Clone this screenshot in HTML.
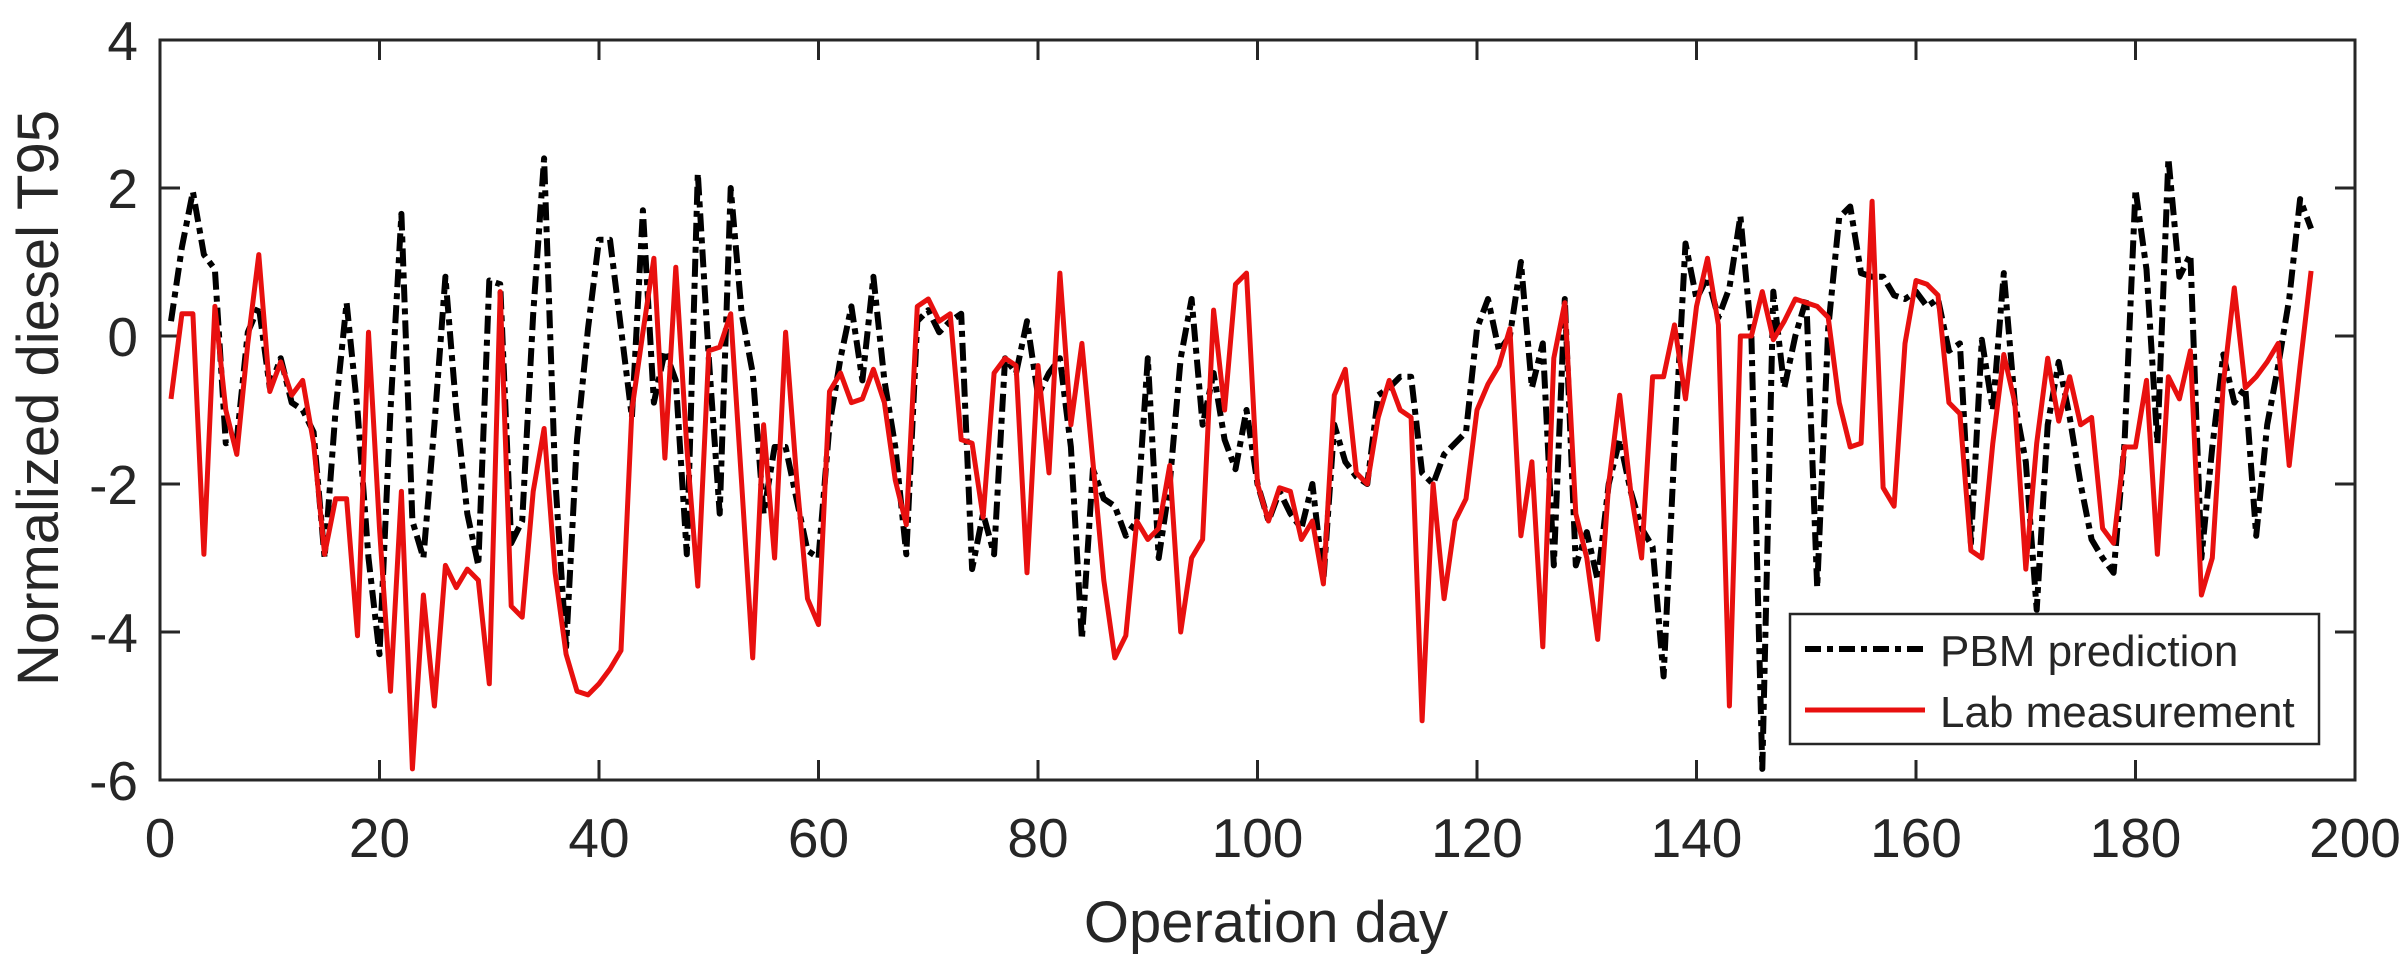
<!DOCTYPE html>
<html>
<head>
<meta charset="utf-8">
<style>
html,body{margin:0;padding:0;background:#fff;}
svg{display:block;}
text{font-family:"Liberation Sans",Arial,sans-serif;fill:#262626;}
</style>
</head>
<body>
<svg id="chart" width="2408" height="964" viewBox="0 0 2408 964" xmlns="http://www.w3.org/2000/svg">
  <rect x="0" y="0" width="2408" height="964" fill="#fff"/>
  <g id="ticks"></g>
  <g id="series"></g>
  <rect x="160" y="40" width="2195" height="740" fill="none" stroke="#262626" stroke-width="3"/>
  <text x="1266" y="942" font-size="58" text-anchor="middle">Operation day</text>
  <text x="0" y="0" font-size="58" text-anchor="middle" transform="translate(58,398) rotate(-90)">Normalized diesel T95</text>
  <g>
    <rect x="1790" y="614" width="529" height="130" fill="#fff" stroke="#262626" stroke-width="2.5"/>
    <line x1="1805" y1="649" x2="1925" y2="649" stroke="#000" stroke-width="6" stroke-dasharray="16,6,6,6"/>
    <text x="1940" y="666" font-size="44">PBM prediction</text>
    <line x1="1805" y1="710" x2="1925" y2="710" stroke="#e8100f" stroke-width="5"/>
    <text x="1940" y="727" font-size="44">Lab measurement</text>
  </g>
</svg>
<script>
const xTicks = [0, 20, 40, 60, 80, 100, 120, 140, 160, 180, 200];
const yTicks = [4, 2, 0, -2, -4, -6];
const labValues = [-0.85,0.3,0.3,-2.95,0.4,-1.0,-1.6,-0.1,1.1,-0.75,
-0.35,-0.8,-0.6,-1.45,-2.95,-2.2,-2.2,-4.05,0.05,-2.6,
-4.8,-2.1,-5.85,-3.5,-5.0,-3.1,-3.4,-3.15,-3.3,-4.7,
0.6,-3.65,-3.8,-2.1,-1.25,-3.2,-4.3,-4.8,-4.85,-4.7,
-4.5,-4.25,-1.0,0.05,1.05,-1.65,0.93,-1.5,-3.38,-0.2,
-0.15,0.3,-2.0,-4.35,-1.2,-3.0,0.05,-1.9,-3.55,-3.9,
-0.75,-0.5,-0.9,-0.85,-0.45,-0.9,-1.95,-2.55,0.4,0.5,
0.2,0.3,-1.4,-1.45,-2.45,-0.5,-0.3,-0.4,-3.2,-0.4,
-1.85,0.85,-1.2,-0.1,-1.7,-3.3,-4.35,-4.05,-2.5,-2.75,
-2.6,-1.75,-4.0,-3.0,-2.75,0.35,-1.0,0.7,0.85,-2.0,
-2.5,-2.05,-2.1,-2.75,-2.5,-3.35,-0.8,-0.45,-1.85,-2.0,
-1.1,-0.6,-1.0,-1.1,-5.2,-2.0,-3.55,-2.5,-2.2,-1.0,
-0.65,-0.4,0.1,-2.7,-1.7,-4.2,-0.3,0.45,-2.4,-3.0,
-4.1,-2.0,-0.8,-2.1,-3.0,-0.55,-0.55,0.15,-0.85,0.4,
1.05,0.15,-5.0,0.0,0.0,0.6,-0.05,0.2,0.5,0.45,
0.4,0.25,-0.9,-1.5,-1.45,1.82,-2.05,-2.3,-0.1,0.75,
0.7,0.55,-0.9,-1.05,-2.9,-3.0,-1.45,-0.25,-0.9,-3.15,
-1.45,-0.3,-1.15,-0.55,-1.2,-1.1,-2.6,-2.8,-1.5,-1.5,
-0.6,-2.95,-0.55,-0.85,-0.2,-3.5,-3.0,-0.65,0.65,-0.7,
-0.55,-0.35,-0.1,-1.75,-0.4,0.88];
const pbmValues = [0.2,1.2,1.95,1.1,0.9,-1.45,-1.4,0.05,0.4,-0.7,
-0.3,-0.9,-1.0,-1.3,-3.0,-1.0,0.45,-1.0,-3.0,-4.3,
-1.0,1.65,-2.5,-3.0,-1.2,0.8,-1.0,-2.4,-3.1,0.75,
0.7,-2.8,-2.5,0.3,2.4,-1.9,-4.2,-1.4,0.1,1.3,
1.3,0.1,-1.1,1.7,-0.9,-0.2,-0.6,-2.95,2.2,-0.3,
-2.4,2.0,0.3,-0.5,-2.4,-1.5,-1.5,-2.2,-2.9,-3.0,
-1.2,-0.3,0.4,-0.6,0.8,-0.6,-1.5,-2.95,0.2,0.35,
0.05,0.2,0.3,-3.15,-2.4,-2.95,-0.3,-0.5,0.2,-0.8,
-0.5,-0.3,-1.5,-4.1,-1.8,-2.2,-2.3,-2.7,-2.5,-0.3,
-3.0,-2.0,-0.3,0.5,-1.2,-0.5,-1.4,-1.8,-1.0,-2.0,
-2.5,-2.1,-2.4,-2.6,-2.0,-3.3,-1.2,-1.7,-1.9,-2.0,
-0.8,-0.7,-0.55,-0.55,-1.85,-2.0,-1.6,-1.45,-1.3,0.1,
0.5,-0.2,0.0,1.0,-0.7,-0.1,-3.1,0.5,-3.1,-2.65,
-3.3,-2.0,-1.4,-2.1,-2.6,-2.85,-4.6,-1.5,1.25,0.5,
0.8,0.25,0.65,1.62,0.0,-5.85,0.6,-0.7,0.0,0.5,
-3.4,0.1,1.6,1.75,0.85,0.8,0.8,0.55,0.5,0.6,
0.4,0.5,-0.2,-0.1,-2.8,-0.05,-1.0,0.85,-0.9,-1.7,
-3.7,-1.2,-0.35,-1.1,-2.0,-2.75,-3.0,-3.2,-1.45,1.98,
0.9,-1.45,2.4,0.8,1.1,-3.0,-1.5,-0.25,-0.9,-0.7,
-2.7,-1.2,-0.4,0.5,1.85,1.45];

const NS = 'http://www.w3.org/2000/svg';
const X0 = 160, X1 = 2355, Y0 = 40, Y1 = 780;
function xScale(d){ return X0 + (d - 0) / 200 * (X1 - X0); }
function yScale(v){ return Y0 + (4 - v) / 10 * (Y1 - Y0); }

const tg = document.getElementById('ticks');
xTicks.forEach(function(t){
  const x = xScale(t);
  if (t > 0 && t < 200) {
    const a = document.createElementNS(NS, 'line');
    a.setAttribute('x1', x); a.setAttribute('x2', x);
    a.setAttribute('y1', Y1); a.setAttribute('y2', Y1 - 20);
    a.setAttribute('stroke', '#262626'); a.setAttribute('stroke-width', '3');
    
    
    tg.appendChild(a);
    const b = document.createElementNS(NS, 'line');
    b.setAttribute('x1', x); b.setAttribute('x2', x);
    b.setAttribute('y1', Y0); b.setAttribute('y2', Y0 + 20);
    b.setAttribute('stroke', '#262626'); b.setAttribute('stroke-width', '3');
    
    
    tg.appendChild(b);
  }
  const lb = document.createElementNS(NS, 'text');
  lb.setAttribute('x', x); lb.setAttribute('y', 857);
  lb.setAttribute('font-size', '55'); lb.setAttribute('text-anchor', 'middle');
  lb.textContent = String(t);
  
  
  tg.appendChild(lb);
});
yTicks.forEach(function(t){
  const y = yScale(t);
  if (t < 4 && t > -6) {
    const a = document.createElementNS(NS, 'line');
    a.setAttribute('x1', X0); a.setAttribute('x2', X0 + 20);
    a.setAttribute('y1', y); a.setAttribute('y2', y);
    a.setAttribute('stroke', '#262626'); a.setAttribute('stroke-width', '3');
    
    
    tg.appendChild(a);
    const b = document.createElementNS(NS, 'line');
    b.setAttribute('x1', X1); b.setAttribute('x2', X1 - 20);
    b.setAttribute('y1', y); b.setAttribute('y2', y);
    b.setAttribute('stroke', '#262626'); b.setAttribute('stroke-width', '3');
    
    
    tg.appendChild(b);
  }
  const lb = document.createElementNS(NS, 'text');
  lb.setAttribute('x', 138); lb.setAttribute('y', y + 20);
  lb.setAttribute('font-size', '55'); lb.setAttribute('text-anchor', 'end');
  lb.textContent = String(t);
  
  
  tg.appendChild(lb);
});

function pathFor(vals){
  return vals.map(function(v, i){
    return (i === 0 ? 'M' : 'L') + xScale(i + 1).toFixed(1) + ',' + yScale(v).toFixed(1);
  }).join(' ');
}
const sg = document.getElementById('series');
const pbm = document.createElementNS(NS, 'path');
pbm.setAttribute('d', pathFor(pbmValues));
pbm.setAttribute('fill', 'none'); pbm.setAttribute('stroke', '#000');
pbm.setAttribute('stroke-width', '6'); pbm.setAttribute('stroke-dasharray', '18,6,6,6');
pbm.setAttribute('stroke-linejoin', 'round');


sg.appendChild(pbm);
const lab = document.createElementNS(NS, 'path');
lab.setAttribute('d', pathFor(labValues));
lab.setAttribute('fill', 'none'); lab.setAttribute('stroke', '#e8100f');
lab.setAttribute('stroke-width', '5'); lab.setAttribute('stroke-linejoin', 'round');


sg.appendChild(lab);
</script>
</body>
</html>
